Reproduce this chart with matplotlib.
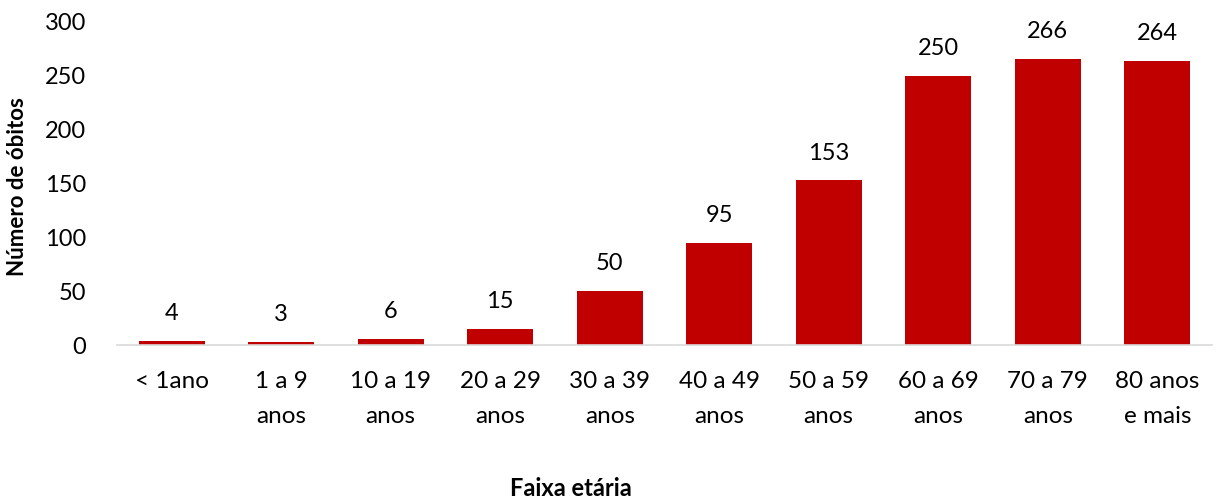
import matplotlib
matplotlib.use("Agg")
import matplotlib.pyplot as plt

categories = ["< 1ano", "1 a 9\nanos", "10 a 19\nanos", "20 a 29\nanos", "30 a 39\nanos",
              "40 a 49\nanos", "50 a 59\nanos", "60 a 69\nanos", "70 a 79\nanos", "80 anos\ne mais"]
values = [4, 3, 6, 15, 50, 95, 153, 250, 266, 264]
yticks = [0, 50, 100, 150, 200, 250, 300]

plt.rcParams['font.family'] = ['Lato', 'DejaVu Sans']

fig = plt.figure(figsize=(12.21, 5.0), dpi=100)
ax = fig.add_axes([117/1221, 1-345/500, (1212-117)/1221, (345-22)/500])

x = list(range(len(categories)))
ax.bar(x, values, width=0.6, color="#C00000")
ax.set_xlim(-0.5, len(categories)-0.5)
ax.set_ylim(0, 300)
ax.set_yticks(yticks)
ax.set_xticks(x)
ax.set_xticklabels(categories, fontsize=17.5, linespacing=1.8, color="#000000")
ax.tick_params(axis='x', length=0, pad=19)
ax.tick_params(axis='y', length=0, pad=22, labelsize=17)

for s in ["top", "right", "left"]:
    ax.spines[s].set_visible(False)
ax.spines["bottom"].set_color("#D9D9D9")
ax.spines["bottom"].set_linewidth(1.2)

for xi, v in zip(x, values):
    ax.annotate(str(v), (xi, v), xytext=(0, 12), textcoords="offset points",
                ha="center", va="bottom", fontsize=17)

fig.text(18/1221, 1-187/500, "Número de óbitos", rotation=90, ha="center", va="center",
         fontsize=16, fontweight="bold")
fig.text(571/1221, 1-488/500, "Faixa etária", ha="center", va="center",
         fontsize=17, fontweight="bold")

fig.savefig("out.png", dpi=100)
